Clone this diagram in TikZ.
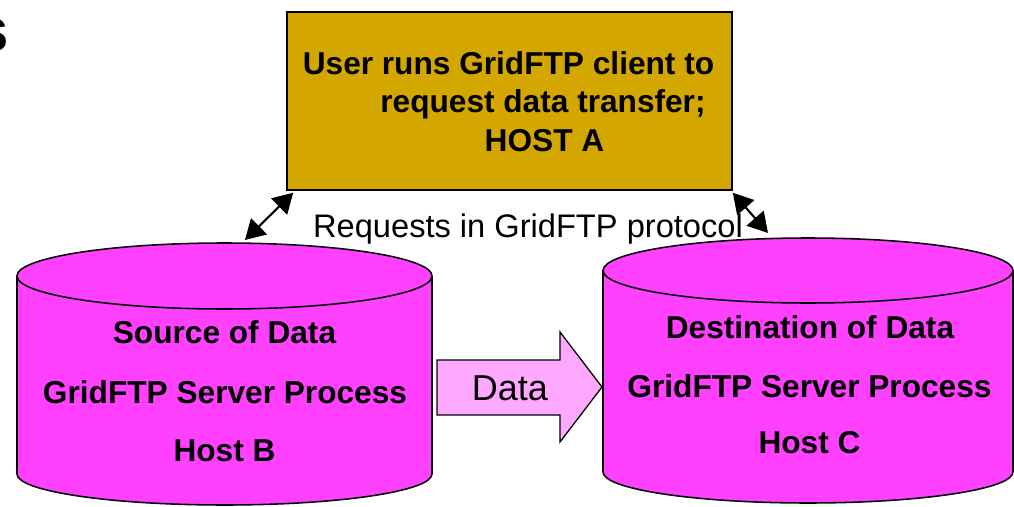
\documentclass[tikz,border=0pt]{standalone}
\usepackage{fontspec}
\setmainfont{Liberation Sans}
\usetikzlibrary{calc,arrows.meta}
\definecolor{hostgold}{HTML}{D4A600}
\definecolor{drum}{HTML}{FF40FF}
\definecolor{flow}{HTML}{FFA8FF}
\tikzset{
  hostbox/.style={draw=black, fill=hostgold, line width=1.1pt, minimum width=11.125cm, minimum height=4.45cm, inner sep=0pt},
  disk/.style={draw=black, fill=drum, line width=1.1pt},
  flowarrow/.style={draw=black, fill=flow, line width=0.9pt},
  link/.style={{Triangle[length=14pt,width=16pt]}-{Triangle[length=14pt,width=16pt]}, line width=1.5pt},
  lab/.style={font=\fontsize{22.5}{27}\selectfont\bfseries, anchor=base, inner sep=0pt},
  note/.style={font=\fontsize{23.2}{28}\selectfont, anchor=base, inner sep=0pt}
}
\begin{document}
\begin{tikzpicture}[x=0.025cm, y=-0.025cm]
  \useasboundingbox (0,0) rectangle (1014,507);

  % tail of the slide title, cut by the page edge
  \node[font=\fontsize{44}{50}\selectfont\bfseries, anchor=base east, inner sep=0pt] (title) at (9,51) {s};

  % client host
  \node[hostbox] (hostA) at (509.5,101) {};
  \node[lab] (userA) at (508.5,74) {User runs GridFTP client to};
  \node[lab] (reqA) at (543,112) {request data transfer;};
  \node[lab] (nameA) at (544.5,151) {HOST A};

  % source server drum
  \filldraw[disk] (17,276) -- (17,474) arc[start angle=180,end angle=0,x radius=207.5,y radius=31]
    -- (432,276) arc[start angle=0,end angle=-180,x radius=207.5,y radius=33] -- cycle;
  \draw[disk, fill=none] (17,276) arc[start angle=180,end angle=0,x radius=207.5,y radius=33];
  \node[lab] (srcB) at (224.5,343) {Source of Data};
  \node[lab] (procB) at (225,403) {GridFTP Server Process};
  \node[lab] (nameB) at (224.5,461) {Host B};

  % destination server drum
  \filldraw[disk] (603,270.5) -- (603,472) arc[start angle=180,end angle=0,x radius=205,y radius=31]
    -- (1013,270.5) arc[start angle=0,end angle=-180,x radius=205,y radius=32.5] -- cycle;
  \draw[disk, fill=none] (603,270.5) arc[start angle=180,end angle=0,x radius=205,y radius=32.5];
  \node[lab] (dstC) at (810,338) {Destination of Data};
  \node[lab] (procC) at (809.5,397) {GridFTP Server Process};
  \node[lab] (nameC) at (809.5,453) {Host C};

  % data flow between the servers
  \filldraw[flowarrow] (437,360) -- (560,360) -- (560,332) -- (602,387)
    -- (560,442) -- (560,415) -- (437,415) -- cycle;
  \node[note, font=\fontsize{25.6}{30}\selectfont] (data) at (510,400) {Data};

  % control channel
  \coordinate (srcTip) at (245,240);
  \coordinate (dstTip) at (768,233);
  \draw[link] (srcTip) -- ($(hostA.south west)+(7,2)$);
  \draw[link] ($(hostA.south east)+(0,2)$) -- (dstTip);
  \node[note] (proto) at (528,237) {Requests in GridFTP protocol};
\end{tikzpicture}
\end{document}
